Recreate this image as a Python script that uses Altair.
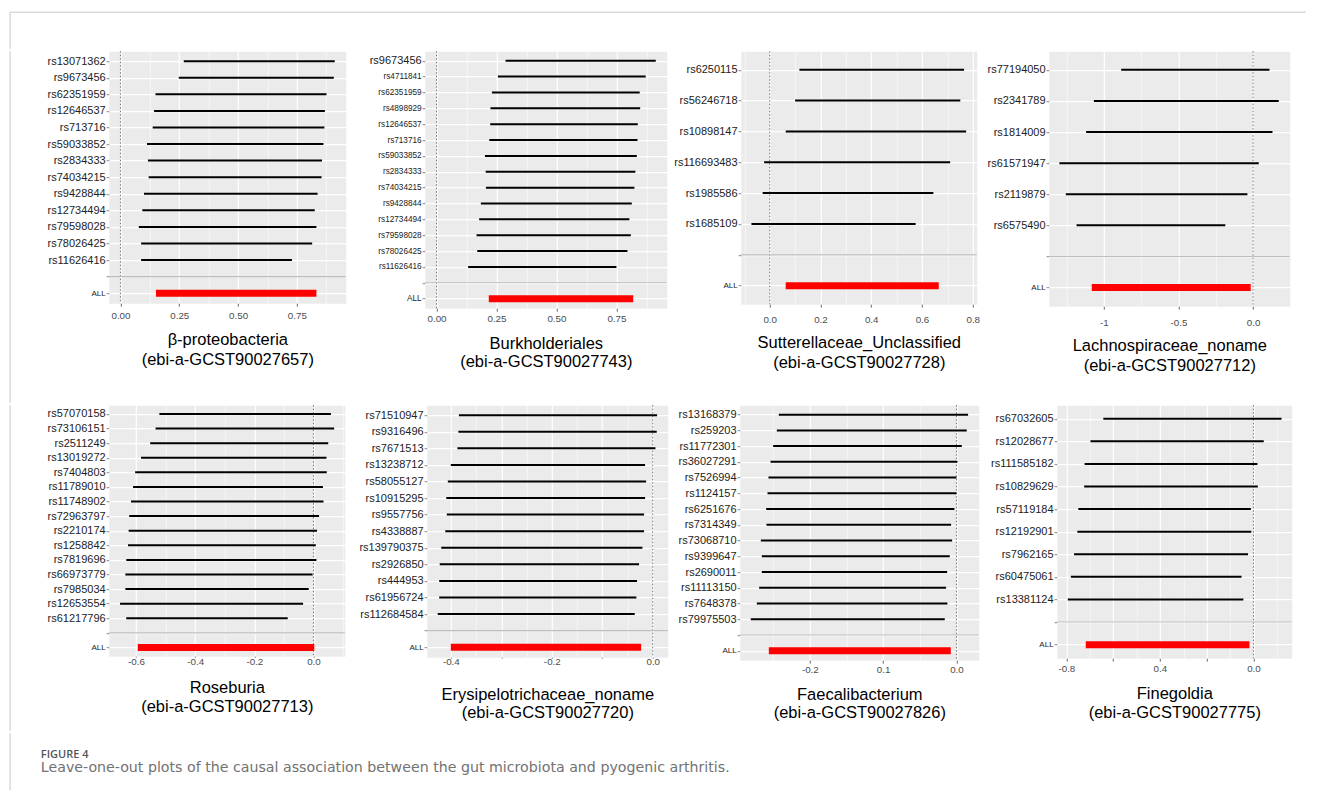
import altair as alt
import pandas as pd

# ---------------- data ----------------
p1_name = "β-proteobacteria"
p1_id = "(ebi-a-GCST90027657)"
p1_snps = ["rs13071362", "rs9673456", "rs62351959", "rs12646537", "rs713716", "rs59033852",
           "rs2834333", "rs74034215", "rs9428844", "rs12734494", "rs79598028", "rs78026425", "rs11626416"]
p1_lo = [0.269, 0.248, 0.149, 0.143, 0.137, 0.113, 0.117, 0.120, 0.100, 0.093, 0.078, 0.088, 0.088]
p1_up = [0.911, 0.907, 0.876, 0.869, 0.867, 0.863, 0.857, 0.855, 0.838, 0.826, 0.833, 0.815, 0.729]
p1_all = [0.151, 0.833]
p1_xdomain = [-0.0495, 0.958]
p1_major = [0.0, 0.25, 0.5, 0.75]
p1_major_labels = ["0.00", "0.25", "0.50", "0.75"]
p1_minor = [0.125, 0.375, 0.625, 0.875]

p2_name = "Burkholderiales"
p2_id = "(ebi-a-GCST90027743)"
p2_snps = ["rs9673456", "rs4711841", "rs62351959", "rs4898929", "rs12646537", "rs713716", "rs59033852",
           "rs2834333", "rs74034215", "rs9428844", "rs12734494", "rs79598028", "rs78026425", "rs11626416"]
p2_lo = [0.288, 0.256, 0.231, 0.225, 0.224, 0.220, 0.202, 0.205, 0.206, 0.185, 0.178, 0.167, 0.170, 0.132]
p2_up = [0.914, 0.872, 0.847, 0.849, 0.839, 0.838, 0.835, 0.829, 0.825, 0.814, 0.804, 0.810, 0.796, 0.750]
p2_all = [0.218, 0.820]
p2_xdomain = [-0.0487, 0.960]
p2_major = [0.0, 0.25, 0.5, 0.75]
p2_major_labels = ["0.00", "0.25", "0.50", "0.75"]
p2_minor = [0.125, 0.375, 0.625, 0.875]

p3_name = "Sutterellaceae_Unclassified"
p3_id = "(ebi-a-GCST90027728)"
p3_snps = ["rs6250115", "rs56246718", "rs10898147", "rs116693483", "rs1985586", "rs1685109"]
p3_lo = [0.117, 0.100, 0.063, -0.022, -0.028, -0.072]
p3_up = [0.766, 0.751, 0.774, 0.711, 0.645, 0.575]
p3_all = [0.063, 0.666]
p3_xdomain = [-0.114, 0.816]
p3_major = [0.0, 0.2, 0.4, 0.6, 0.8]
p3_major_labels = ["0.0", "0.2", "0.4", "0.6", "0.8"]
p3_minor = [-0.1, 0.1, 0.3, 0.5, 0.7]

p4_name = "Lachnospiraceae_noname"
p4_id = "(ebi-a-GCST90027712)"
p4_snps = ["rs77194050", "rs2341789", "rs1814009", "rs61571947", "rs2119879", "rs6575490"]
p4_lo = [-0.884, -1.067, -1.119, -1.298, -1.255, -1.183]
p4_up = [0.110, 0.172, 0.130, 0.038, -0.038, -0.186]
p4_all = [-1.081, -0.016]
p4_xdomain = [-1.369, 0.246]
p4_major = [-1.0, -0.5, 0.0]
p4_major_labels = ["-1", "-0.5", "0.0"]
p4_minor = [-1.25, -0.75, -0.25]

p5_name = "Roseburia"
p5_id = "(ebi-a-GCST90027713)"
p5_snps = ["rs57070158", "rs73106151", "rs2511249", "rs13019272", "rs7404803", "rs11789010", "rs11748902",
           "rs72963797", "rs2210174", "rs1258842", "rs7819696", "rs66973779", "rs7985034", "rs12653554", "rs61217796"]
p5_lo = [-0.521, -0.534, -0.552, -0.583, -0.603, -0.610, -0.617, -0.623, -0.625, -0.627, -0.633, -0.636, -0.636, -0.654, -0.633]
p5_up = [0.059, 0.070, 0.050, 0.044, 0.045, 0.032, 0.034, 0.019, 0.012, 0.008, 0.010, -0.003, -0.016, -0.035, -0.087]
p5_all = [-0.594, 0.003]
p5_xdomain = [-0.692, 0.106]
p5_major = [-0.6, -0.4, -0.2, 0.0]
p5_major_labels = ["-0.6", "-0.4", "-0.2", "0.0"]
p5_minor = [-0.5, -0.3, -0.1, 0.1]

p6_name = "Erysipelotrichaceae_noname"
p6_id = "(ebi-a-GCST90027720)"
p6_snps = ["rs71510947", "rs9316496", "rs7671513", "rs13238712", "rs58055127", "rs10915295", "rs9557756",
           "rs4338887", "rs139790375", "rs2926850", "rs444953", "rs61956724", "rs112684584"]
p6_lo = [-0.384, -0.385, -0.387, -0.400, -0.406, -0.409, -0.408, -0.411, -0.419, -0.422, -0.423, -0.423, -0.426]
p6_up = [0.0086, 0.0079, 0.0053, -0.0152, -0.0132, -0.0152, -0.0172, -0.0172, -0.0205, -0.0271, -0.0311, -0.0324, -0.0357]
p6_all = [-0.400, -0.0231]
p6_xdomain = [-0.4476, 0.0298]
p6_major = [-0.4, -0.3, -0.2, -0.1, 0.0]
p6_major_labels = ["-0.4", "", "-0.2", "", "0.0"]
p6_minor = [-0.35, -0.25, -0.15, -0.05]

p7_name = "Faecalibacterium"
p7_id = "(ebi-a-GCST90027826)"
p7_snps = ["rs13168379", "rs259203", "rs11772301", "rs36027291", "rs7526994", "rs1124157", "rs6251676",
           "rs7314349", "rs73068710", "rs9399647", "rs2690011", "rs11113150", "rs7648378", "rs79975503"]
p7_lo = [-0.2423, -0.2450, -0.2500, -0.2536, -0.2564, -0.2577, -0.2595, -0.2591, -0.2668, -0.2655, -0.2655, -0.2691, -0.2723, -0.2805]
p7_up = [0.0159, 0.0141, 0.0073, 0.0014, 0.0000, 0.0000, -0.0027, -0.0073, -0.0059, -0.0091, -0.0127, -0.0141, -0.0123, -0.0159]
p7_all = [-0.2559, -0.0077]
p7_xdomain = [-0.2955, 0.0305]
p7_major = [-0.2, -0.1, 0.0]
p7_major_labels = ["-0.2", "0.1", "0.0"]
p7_minor = [-0.25, -0.15, -0.05]

p8_name = "Finegoldia"
p8_id = "(ebi-a-GCST90027775)"
p8_snps = ["rs67032605", "rs12028677", "rs111585182", "rs10829629", "rs57119184", "rs12192901",
           "rs7962165", "rs60475061", "rs13381124"]
p8_lo = [-0.642, -0.697, -0.722, -0.724, -0.749, -0.753, -0.767, -0.781, -0.794]
p8_up = [0.120, 0.044, 0.017, 0.019, -0.011, -0.009, -0.023, -0.051, -0.043]
p8_all = [-0.717, -0.017]
p8_xdomain = [-0.841, 0.164]
p8_major = [-0.8, -0.6, -0.4, -0.2, 0.0]
p8_major_labels = ["-0.8", "", "0.4", "", "0.0"]
p8_minor = [-0.7, -0.5, -0.3, -0.1, 0.1]

caption_head = "FIGURE 4"
caption_text = "Leave-one-out plots of the causal association between the gut microbiota and pyogenic arthritis."

# ---------------- layout / style ----------------
FONT = "Liberation Sans"
FRAME = "#c8c8c8"
BG = "#EBEBEB"
FRAME_X = -98.7          # frame line position relative to the plot origin of the first column

# per panel: width, height, y-axis extent, x tick size, x label padding, title padding, title line height
LAYOUT = {
    1: (237, 252, 70, 3, 4.4, 13.4, 19.6),
    2: (242, 257, 76, 3, 2.7, 12.0, 18.3),
    3: (236, 253, 71, 3, 7.1, 15.4, 20.0),
    4: (241, 255, 67, 3, 8.7, 16.0, 20.0),
    5: (236, 251, 70, 1, -0.3, 8.7, 18.3),
    6: (241, 252, 79, 1, -1.3, 14.4, 18.3),
    7: (239, 255, 69, 3, 1.7, 11.0, 18.3),
    8: (235, 253, 75, 3, 2.7, 12.0, 19.3),
}


def js_list(vals):
    return "[" + ",".join(repr(float(v)) for v in vals) + "]"


def js_str_list(vals):
    return "[" + ",".join("'" + v + "'" for v in vals) + "]"


def panel(k, name, pid, snps, lo, up, allci, xdomain, major, major_labels, minor,
          small_snp_labels=False, frame_len=None):
    w, h, yext, tsize, lpad, tpad, tlh = LAYOUT[k]
    n = len(snps)
    ydomain = snps + [" ", "ALL"]
    df = pd.DataFrame({"SNP": snps + ["ALL"], "lo": lo + [allci[0]], "up": up + [allci[1]],
                       "kind": ["snp"] * n + ["all"]})
    xs = alt.Scale(domain=xdomain, nice=False, zero=False)
    ys = alt.Scale(type="point", domain=ydomain, padding=0.6)

    is_major = f"indexof({js_list(major)}, datum.value) >= 0"
    lab_expr = (f"indexof({js_list(major)}, datum.value) >= 0 ? "
                f"{js_str_list(major_labels)}[indexof({js_list(major)}, datum.value)] : ''")
    xaxis = alt.Axis(
        values=sorted(major + minor), labelExpr=lab_expr, title=[name, pid],
        grid=True, gridColor="white",
        gridWidth={"condition": {"test": is_major, "value": 1.2}, "value": 0.6},
        tickOpacity={"condition": {"test": is_major, "value": 1}, "value": 0},
        tickColor="#444444", tickSize=tsize, tickWidth=0.8, domain=False,
        labelFlush=False, labelOverlap=False, labelFont=FONT, labelFontSize=9.8,
        labelColor="#4d4d4d", labelPadding=lpad,
        titleFont=FONT, titleFontSize=16.5, titleFontWeight="normal", titleColor="black",
        titlePadding=tpad, titleLineHeight=tlh, minExtent=15, maxExtent=15)

    if small_snp_labels:
        fs = {"condition": {"test": f"datum.value == '{snps[0]}'", "value": 11}, "value": 8.2}
    else:
        fs = {"condition": {"test": "datum.value == 'ALL'", "value": 8}, "value": 11}
    yaxis = alt.Axis(title=None, grid=True, gridColor="white", gridWidth=1.2, domain=False,
                     ticks=True, tickColor="#555555", tickSize=2.7, tickWidth=0.7,
                     labelFont=FONT, labelFontSize=fs, labelColor="#222222", labelPadding=1,
                     minExtent=yext, maxExtent=yext)

    zero_df = pd.DataFrame({"lo": [0.0]})
    sep_df = pd.DataFrame({"SNP": [" "]})

    zero = alt.Chart(zero_df).mark_rule(color="#555555", strokeDash=[1.5, 2], strokeWidth=0.8).encode(
        x=alt.X("lo:Q", scale=xs, axis=xaxis))
    bars = alt.Chart(df).transform_filter(alt.datum.kind == "snp").mark_rule(
        color="black", strokeWidth=2).encode(
        y=alt.Y("SNP:N", scale=ys, axis=yaxis),
        x=alt.X("lo:Q", scale=xs, axis=xaxis),
        x2="up:Q")
    allbar = alt.Chart(df).transform_filter(alt.datum.kind == "all").mark_rule(
        color="#FF0000", strokeWidth=7).encode(
        y=alt.Y("SNP:N", scale=ys, axis=yaxis),
        x=alt.X("lo:Q", scale=xs, axis=xaxis),
        x2="up:Q")
    sep = alt.Chart(sep_df).mark_rule(color="#BEBEBE", strokeWidth=1.1).encode(
        y=alt.Y("SNP:N", scale=ys, axis=yaxis))
    layers = [zero, bars, allbar, sep]
    if frame_len is not None:
        fdf = pd.DataFrame({"a": [0]})
        layers.append(alt.Chart(fdf).mark_rule(color=FRAME, strokeWidth=1).encode(
            x=alt.value(FRAME_X), y=alt.value(0), y2=alt.value(frame_len)))
    return alt.layer(*layers).properties(
        width=w, height=h, view=alt.ViewBackground(fill=BG, stroke="transparent"))


row1 = alt.hconcat(
    panel(1, p1_name, p1_id, p1_snps, p1_lo, p1_up, p1_all, p1_xdomain, p1_major, p1_major_labels, p1_minor,
          frame_len=351.5),
    panel(2, p2_name, p2_id, p2_snps, p2_lo, p2_up, p2_all, p2_xdomain, p2_major, p2_major_labels, p2_minor,
          small_snp_labels=True),
    panel(3, p3_name, p3_id, p3_snps, p3_lo, p3_up, p3_all, p3_xdomain, p3_major, p3_major_labels, p3_minor),
    panel(4, p4_name, p4_id, p4_snps, p4_lo, p4_up, p4_all, p4_xdomain, p4_major, p4_major_labels, p4_minor),
    spacing=0)

row2 = alt.hconcat(
    panel(5, p5_name, p5_id, p5_snps, p5_lo, p5_up, p5_all, p5_xdomain, p5_major, p5_major_labels, p5_minor,
          frame_len=325.5),
    panel(6, p6_name, p6_id, p6_snps, p6_lo, p6_up, p6_all, p6_xdomain, p6_major, p6_major_labels, p6_minor),
    panel(7, p7_name, p7_id, p7_snps, p7_lo, p7_up, p7_all, p7_xdomain, p7_major, p7_major_labels, p7_minor),
    panel(8, p8_name, p8_id, p8_snps, p8_lo, p8_up, p8_all, p8_xdomain, p8_major, p8_major_labels, p8_minor),
    spacing=0)

one = pd.DataFrame({"a": [0]})
row0 = alt.layer(
    alt.Chart(one).mark_rule(color=FRAME, strokeWidth=1).encode(
        x=alt.value(FRAME_X), x2=alt.value(1197), y=alt.value(0)),
    alt.Chart(one).mark_rule(color=FRAME, strokeWidth=1).encode(
        x=alt.value(FRAME_X), y=alt.value(0), y2=alt.value(36.5)),
).properties(width=1, height=1)

cap_head_df = pd.DataFrame({"t": [caption_head]})
cap_text_df = pd.DataFrame({"t": [caption_text]})
CAP_X = FRAME_X + 30.7
caprow = alt.layer(
    alt.Chart(one).mark_rule(color=FRAME, strokeWidth=1).encode(
        x=alt.value(FRAME_X), y=alt.value(0), y2=alt.value(57)),
    alt.Chart(cap_head_df).mark_text(align="left", baseline="alphabetic", font="Open Sans",
                                     fontSize=11, fontWeight=600, color="#555555").encode(
        x=alt.value(CAP_X), y=alt.value(24.8), text="t:N"),
    alt.Chart(cap_text_df).mark_text(align="left", baseline="alphabetic", font="DejaVu Sans",
                                     fontSize=14.2, color="#727272").encode(
        x=alt.value(CAP_X), y=alt.value(38.8), text="t:N"),
).properties(width=1, height=1)

chart = alt.vconcat(row0, row1, row2, caprow, spacing=0).properties(
    padding={"left": 0.8, "top": 3.2, "right": 0, "bottom": 0}
).configure(font=FONT).configure_view(stroke="transparent")

chart.save("out.html", embed_options={"renderer": "svg", "actions": False})
